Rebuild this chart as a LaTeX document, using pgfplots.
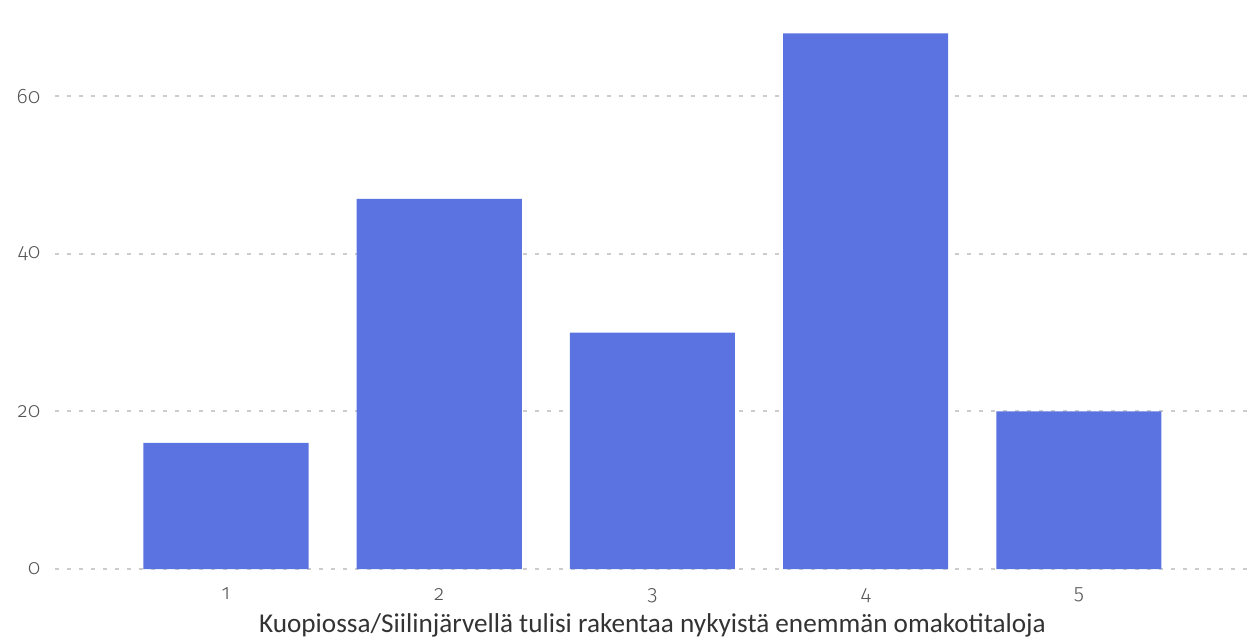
\documentclass[border=0pt]{standalone}
\usepackage{fontspec}
\setmainfont{Carlito}
\newfontfamily\tickfont[Numbers=OldStyle]{Fira Sans Light}
\usepackage{pgfplots}
\pgfplotsset{compat=1.18}
\definecolor{barblue}{HTML}{5B73E0}
\definecolor{gridgray}{HTML}{CCCCCC}
\definecolor{ticktext}{HTML}{555555}
\definecolor{labeltext}{HTML}{333333}
\begin{document}
\begin{tikzpicture}
\path[use as bounding box] (-27.7pt,-37pt) rectangle (596.8pt,284.5pt);
\begin{axis}[
    scale only axis,
    width=597.1pt, height=284.5pt,
    xmin=0.2, xmax=5.8,
    ymin=0, ymax=72.25,
    axis line style={draw=none},
    ybar, bar width=82.5pt,
    xtick={1,2,3,4,5},
    ytick={0,20,40,60},
    major tick length=0pt,
    tick style={draw=none},
    ymajorgrids,
    grid style={gridgray, line width=1pt, dash pattern=on 2pt off 4pt},
    /pgf/number format/assume math mode=true,
    tick label style={font=\tickfont\fontsize{10.5}{12}\selectfont, text=ticktext},
    xticklabel style={yshift=-6pt},
    yticklabel style={xshift=-4pt},
    xlabel={Kuopiossa/Siilinjärvellä tulisi rakentaa nykyistä enemmän omakotitaloja},
    xlabel style={font=\fontsize{13.6}{15}\selectfont, text=labeltext, yshift=1.5pt},
    clip=false,
]
\addplot[fill=barblue, draw=none] coordinates {(1,16) (2,47) (3,30) (4,68) (5,20)};
\end{axis}
\end{tikzpicture}
\end{document}
